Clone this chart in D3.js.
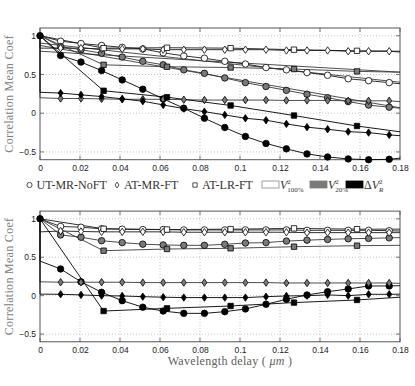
<!DOCTYPE html>
<html>
<head>
<meta charset="utf-8">
<script src="https://cdn.jsdelivr.net/npm/d3@7"></script>
<style>
  body { margin: 0; background: #fff; }
</style>
</head>
<body>
<script>
// x grid of the measurements
const pointX = [0.0103, 0.0205, 0.0308, 0.0411, 0.0514, 0.0616, 0.0719, 0.0822, 0.0924,
  0.1027, 0.113, 0.1232, 0.1335, 0.1438, 0.1541, 0.1643, 0.1746];
const squareX = [0.0318, 0.0635, 0.0953, 0.127, 0.1585];

const xTicks = [0, 0.02, 0.04, 0.06, 0.08, 0.1, 0.12, 0.14, 0.16, 0.18];
const xTickLabels = ["0", "0.02", "0.04", "0.06", "0.08", "0.1", "0.12", "0.14", "0.16", "0.18"];
const yTicks = [-0.5, 0, 0.5, 1];
const yTickLabels = ["\u22120.5", "0", "0.5", "1"];

const methods = ["UT-MR-NoFT", "AT-MR-FT", "AT-LR-FT"];
const variants = ["100", "20", "R"];

// top panel
const topWhiteCircle = [0.93, 0.90, 0.875, 0.85, 0.83, 0.78, 0.74, 0.71, 0.67, 0.635, 0.59, 0.56, 0.525, 0.49, 0.445, 0.42, 0.395];
const topGrayCircle = [0.86, 0.82, 0.775, 0.725, 0.67, 0.625, 0.56, 0.515, 0.455, 0.395, 0.345, 0.295, 0.245, 0.2, 0.15, 0.105, 0.078];
const topBlackCircle = [0.745, 0.66, 0.55, 0.43, 0.31, 0.185, 0.065, -0.065, -0.185, -0.3, -0.39, -0.46, -0.525, -0.565, -0.59, -0.6, -0.595];
const topWhiteDiamond = [0.84, 0.84, 0.83, 0.83, 0.83, 0.82, 0.82, 0.82, 0.82, 0.82, 0.82, 0.81, 0.81, 0.81, 0.80, 0.80, 0.80];
const topGrayDiamond = [0.19, 0.19, 0.185, 0.18, 0.18, 0.18, 0.175, 0.17, 0.17, 0.17, 0.17, 0.165, 0.165, 0.165, 0.16, 0.16, 0.16];
const topBlackDiamond = [0.26, 0.237, 0.215, 0.185, 0.155, 0.107, 0.06, 0.02, -0.022, -0.065, -0.09, -0.138, -0.18, -0.207, -0.238, -0.25, -0.28];
const topWhiteSquare = [0.84, 0.845, 0.84, 0.82, 0.805];
const topGraySquare = [0.625, 0.6, 0.59, 0.57, 0.54];
const topBlackSquare = [0.29, 0.207, 0.1, -0.03, -0.165];
const topDrop = [null, null, null, 0.84, 0.2, 0.27, null, null, null];
const topEnd = [0.38, 0.065, -0.58, 0.79, 0.15, -0.29, 0.80, 0.53, -0.24];
const topTrendStart = [0.905, 0.875, 0.8];
const topTrendEnd = [0.40, 0.07, 0.53];

// bottom panel
const botWhiteCircle = [0.90, 0.89, 0.87, 0.865, 0.86, 0.86, 0.855, 0.855, 0.855, 0.855, 0.855, 0.855, 0.85, 0.85, 0.85, 0.85, 0.845];
const botGrayCircle = [0.79, 0.76, 0.715, 0.69, 0.67, 0.66, 0.655, 0.655, 0.668, 0.685, 0.69, 0.71, 0.722, 0.732, 0.74, 0.745, 0.752];
const botBlackCircle = [0.347, 0.18, 0.044, -0.065, -0.15, -0.2, -0.23, -0.23, -0.208, -0.173, -0.112, -0.047, 0.009, 0.052, 0.087, 0.126, 0.126];
const botWhiteDiamond = [0.84, 0.835, 0.83, 0.83, 0.83, 0.83, 0.825, 0.825, 0.825, 0.825, 0.825, 0.825, 0.82, 0.82, 0.82, 0.82, 0.82];
const botGrayDiamond = [0.175, 0.175, 0.175, 0.175, 0.17, 0.17, 0.17, 0.17, 0.17, 0.17, 0.17, 0.165, 0.165, 0.165, 0.165, 0.165, 0.165];
const botBlackDiamond = [0.018, 0.01, 0.0, -0.004, -0.013, -0.02, -0.025, -0.025, -0.025, -0.025, -0.013, -0.004, 0.0, 0.01, 0.0, 0.018, 0.018];
const botWhiteSquare = [0.87, 0.86, 0.865, 0.875, 0.865];
const botGraySquare = [0.585, 0.607, 0.616, 0.637, 0.65];
const botBlackSquare = [-0.2, -0.165, -0.134, -0.09, -0.056];
const botDrop = [null, null, 0.45, 0.83, 0.18, 0.02, null, null, null];
const botEnd = [0.84, 0.755, 0.13, 0.82, 0.16, 0.02, 0.865, 0.655, -0.02];
const botTrendStart = [];
const botTrendEnd = [];

const width = 415;
const height = 386;
const fills = ["#fff", "#7a7a7a", "#000"];
const lineColors = ["#1a1a1a", "#3a3a3a", "#000"];
const serif = "'Liberation Serif', 'Times New Roman', serif";
const sans = "'Liberation Sans', Arial, sans-serif";

const x = d3.scaleLinear().domain([0, 0.18]).range([40, 400]);

const svg = d3.select("body").append("svg")
  .attr("width", width)
  .attr("height", height);

function markerPath(kind, k = 1) {
  if (kind === "circle") return d3.symbol(d3.symbolCircle, 33 * k * k)();
  if (kind === "square") return "M" + -2.7 * k + "," + -2.7 * k + "h" + 5.4 * k + "v" + 5.4 * k + "h" + -5.4 * k + "Z";
  return "M0," + -3.7 * k + "L" + 2.5 * k + ",0L0," + 3.7 * k + "L" + -2.5 * k + ",0Z";
}

function drawPanel(top, bottom, values, drop, end, trendStart, trendEnd, showXLabel) {
  const y = d3.scaleLinear().domain([-0.6, 1.1]).range([bottom, top]);
  const g = svg.append("g");

  // grid
  g.selectAll(".gx").data(xTicks.slice(1, -1)).enter().append("line")
    .attr("x1", (d) => x(d)).attr("x2", (d) => x(d))
    .attr("y1", top).attr("y2", bottom)
    .attr("stroke", "#aaa").attr("stroke-width", 0.7).attr("stroke-dasharray", "1,2");
  g.selectAll(".gy").data(yTicks).enter().append("line")
    .attr("x1", x(0)).attr("x2", x(0.18))
    .attr("y1", (d) => y(d)).attr("y2", (d) => y(d))
    .attr("stroke", "#aaa").attr("stroke-width", 0.7).attr("stroke-dasharray", "1,2");

  // axes
  const xAxis = d3.axisBottom(x).tickValues(xTicks).tickSize(0).tickPadding(5)
    .tickFormat((d, i) => xTickLabels[i]);
  const yAxis = d3.axisLeft(y).tickValues(yTicks).tickSize(0).tickPadding(4)
    .tickFormat((d, i) => yTickLabels[i]);
  const ax = g.append("g").attr("transform", "translate(0," + bottom + ")").call(xAxis);
  const ay = g.append("g").attr("transform", "translate(" + x(0) + ",0)").call(yAxis);
  [ax, ay].forEach((a) => {
    a.select(".domain").remove();
    a.attr("font-family", null).attr("font-size", null);
    a.selectAll("text").style("font-size", "8.5px").attr("fill", "#222")
      .style("font-family", sans);
  });

  // inner ticks on all four sides
  const tk = 4;
  xTicks.forEach((t) => {
    g.append("line").attr("x1", x(t)).attr("x2", x(t)).attr("y1", bottom).attr("y2", bottom - tk)
      .attr("stroke", "#555").attr("stroke-width", 0.8);
    g.append("line").attr("x1", x(t)).attr("x2", x(t)).attr("y1", top).attr("y2", top + tk)
      .attr("stroke", "#555").attr("stroke-width", 0.8);
  });
  yTicks.forEach((t) => {
    g.append("line").attr("x1", x(0)).attr("x2", x(0) + tk).attr("y1", y(t)).attr("y2", y(t))
      .attr("stroke", "#555").attr("stroke-width", 0.8);
    g.append("line").attr("x1", x(0.18)).attr("x2", x(0.18) - tk).attr("y1", y(t)).attr("y2", y(t))
      .attr("stroke", "#555").attr("stroke-width", 0.8);
  });

  g.append("rect").attr("x", x(0)).attr("y", top)
    .attr("width", x(0.18) - x(0)).attr("height", bottom - top)
    .attr("fill", "none").attr("stroke", "#555").attr("stroke-width", 1);

  const line = d3.line().x((d) => x(d[0])).y((d) => y(d[1]));

  // trend lines
  trendStart.forEach((v, i) => {
    g.append("path").datum([[0, v], [0.18, trendEnd[i]]])
      .attr("d", line).attr("fill", "none").attr("stroke", "#222").attr("stroke-width", 0.8);
  });

  const kinds = ["circle", "diamond", "square"];
  const series = values.map((vals, i) => {
    const kind = kinds[Math.floor(i / 3)];
    const xs = kind === "square" ? squareX : pointX;
    const pts = vals.map((v, j) => [xs[j], v]);
    const path = [[0, 1]];
    if (drop[i] !== null) path.push([0, drop[i]]);
    return { kind, variant: i % 3, pts, path: path.concat(pts, [[0.18, end[i]]]) };
  });

  // lines first, then markers
  series.forEach((s) => {
    g.append("path").datum(s.path).attr("d", line)
      .attr("fill", "none").attr("stroke", lineColors[s.variant]).attr("stroke-width", 0.9);
  });
  series.forEach((s) => {
    g.selectAll(null).data(s.pts).enter().append("path")
      .attr("d", markerPath(s.kind))
      .attr("transform", (d) => "translate(" + x(d[0]) + "," + y(d[1]) + ")")
      .attr("fill", fills[s.variant]).attr("stroke", "#000").attr("stroke-width", 0.8);
  });
  // marker at zero delay
  g.append("path").attr("d", markerPath("circle"))
    .attr("transform", "translate(" + x(0) + "," + y(1) + ")")
    .attr("fill", "#000").attr("stroke", "#000");

  g.append("text")
    .attr("transform", "translate(13," + (top + bottom) / 2 + ") rotate(-90)")
    .attr("text-anchor", "middle").attr("fill", "#808080")
    .style("font-family", serif).style("font-size", "12px").style("letter-spacing", "0.3px")
    .text("Correlation Mean Coef");

  if (showXLabel) {
    const t = g.append("text")
      .attr("x", 230).attr("y", 365).attr("text-anchor", "middle").attr("fill", "#606060")
      .style("font-family", serif).style("font-size", "12px").style("letter-spacing", "0.3px");
    t.append("tspan").text("Wavelength delay ( ");
    t.append("tspan").attr("font-style", "italic").text("\u03bcm");
    t.append("tspan").text(" )");
  }
}

drawPanel(28, 159.7,
  [topWhiteCircle, topGrayCircle, topBlackCircle, topWhiteDiamond, topGrayDiamond, topBlackDiamond,
    topWhiteSquare, topGraySquare, topBlackSquare],
  topDrop, topEnd, topTrendStart, topTrendEnd, false);

drawPanel(211.1, 341.8,
  [botWhiteCircle, botGrayCircle, botBlackCircle, botWhiteDiamond, botGrayDiamond, botBlackDiamond,
    botWhiteSquare, botGraySquare, botBlackSquare],
  botDrop, botEnd, botTrendStart, botTrendEnd, true);

// legend
const leg = svg.append("g");
const legY = 185;
const legMarkers = [["circle", 29.5], ["diamond", 117], ["square", 195]];
legMarkers.forEach((m, i) => {
  leg.append("path").attr("d", markerPath(m[0], 0.8))
    .attr("transform", "translate(" + m[1] + "," + legY + ")")
    .attr("fill", "#fff").attr("stroke", "#222").attr("stroke-width", 0.8);
  leg.append("text").attr("x", m[1] + 7).attr("y", legY + 4).attr("fill", "#333")
    .style("font-family", serif).style("font-size", "12px").text(methods[i]);
});
const legPatches = [262, 310, 346];
const legTextX = [280, 328, 364];
variants.forEach((v, i) => {
  leg.append("rect").attr("x", legPatches[i]).attr("y", legY - 4).attr("width", 17).attr("height", 7)
    .attr("fill", fills[i]).attr("stroke", i === 0 ? "#888" : fills[i]).attr("stroke-width", 0.8);
  const t = leg.append("text").attr("x", legTextX[i]).attr("y", legY + 4).attr("fill", "#333")
    .style("font-family", serif).style("font-size", "12px");
  if (v === "R") t.append("tspan").text("\u0394");
  t.append("tspan").attr("font-style", "italic").text("V");
  t.append("tspan").style("font-size", "7px").attr("dy", -5).text("2");
  t.append("tspan").style("font-size", "7px").attr("font-style", v === "R" ? "italic" : "normal")
    .attr("dx", -3.5).attr("dy", 8).text(v === "R" ? "R" : v + "%");
});
</script>
</body>
</html>
